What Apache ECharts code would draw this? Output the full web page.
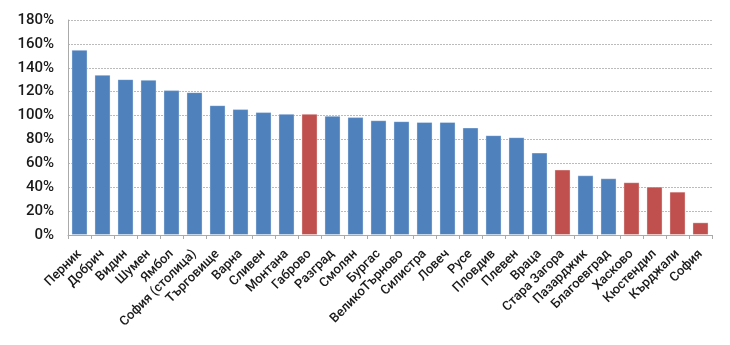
<!DOCTYPE html>
<html><head><meta charset="utf-8">
<script src="https://cdn.jsdelivr.net/npm/echarts@6/dist/echarts.min.js"></script>
<style>html,body{margin:0;padding:0;background:#fff}#c{width:730px;height:345px}</style>
</head><body><div id="c"></div>
<script>
const categories = ['Перник','Добрич','Видин','Шумен','Ямбол','София (столица)','Търговище','Варна','Сливен','Монтана','Габрово','Разград','Смолян','Бургас','ВеликоТърново','Силистра','Ловеч','Русе','Пловдив','Плевен','Враца','Стара Загора','Пазарджик','Благоевград','Хасково','Кюстендил','Кърджали','София'];
const values = [155.1,134.2,130.5,130.0,121.3,119.6,108.7,105.4,102.9,101.5,101.5,99.8,98.7,96.1,95.3,94.7,94.7,90.0,83.6,81.9,69.0,54.8,50.0,47.5,44.2,40.5,36.3,10.6];
const highlighted = ['Габрово','Стара Загора','Хасково','Кюстендил','Кърджали','София'];
const yTicks = [0,20,40,60,80,100,120,140,160,180];

const BLUE = '#4F81BD', RED = '#C0504D';
const chart = echarts.init(document.getElementById('c'));
chart.setOption({
  animation: false,
  grid: {left: 68, right: 18, top: 20, bottom: 110},
  xAxis: {
    type: 'category', data: categories,
    axisLine: {lineStyle: {color: '#aaa'}},
    axisTick: {show: true, length: 4, lineStyle: {color: '#aaa'}},
    axisLabel: {rotate: 45, interval: 0, fontSize: 13, color: '#1a1a1a', fontFamily: 'Roboto', fontWeight: 500, margin: 17}
  },
  yAxis: {
    type: 'value', min: yTicks[0], max: yTicks[yTicks.length-1], interval: 20,
    axisLine: {show: true, lineStyle: {color: '#aaa'}},
    axisTick: {show: false},
    splitLine: {lineStyle: {color: '#bbb', type: [2,1]}},
    axisLabel: {formatter: '{value}%', fontSize: 15, color: '#1a1a1a', fontFamily: 'Roboto', fontWeight: 500, margin: 14}
  },
  series: [{
    type: 'bar', barCategoryGap: '30%',
    data: values.map((v,i)=>({value: v, itemStyle: {color: highlighted.includes(categories[i]) ? RED : BLUE}})),
    itemStyle: {borderColor: 'rgba(255,255,255,0.35)', borderWidth: 1}
  }]
});
</script></body></html>
